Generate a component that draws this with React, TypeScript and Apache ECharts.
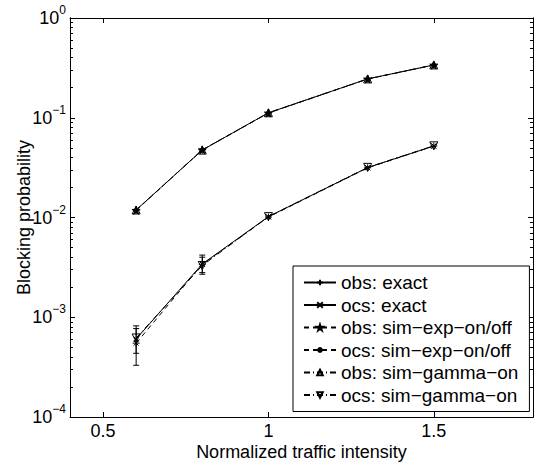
import React, { useEffect, useRef } from "react";
import * as echarts from "echarts";

// ---- data ----
const xValues = [0.6, 0.8, 1.0, 1.3, 1.5];
const obsExact = [0.0119, 0.0475, 0.112, 0.245, 0.338];
const ocsExact = [0.000605, 0.00342, 0.0102, 0.0316, 0.0521];
const obsSimExp = [0.0118, 0.0477, 0.1115, 0.2445, 0.3375];
const ocsSimExp = [0.00055, 0.0034, 0.0101, 0.0315, 0.052];
const obsSimGamma = [0.0119, 0.0474, 0.1122, 0.2452, 0.3385];
const ocsSimGamma = [0.00062, 0.0033, 0.0102, 0.0318, 0.0523];

// error bars (x, low, high)
const errX = [0.6, 0.6, 0.8, 0.8];
const errLow = [0.00033, 0.000435, 0.0027, 0.0028];
const errHigh = [0.00082, 0.00077, 0.0042, 0.004];

const xTicks = [0.5, 1, 1.5];
const yMajor = [1e-4, 1e-3, 1e-2, 1e-1, 1];
const yMinorFactors = [2, 3, 4, 5, 6, 7, 8, 9];

const seriesNames = [
  "obs: exact",
  "ocs: exact",
  "obs: sim\u2212exp\u2212on/off",
  "ocs: sim\u2212exp\u2212on/off",
  "obs: sim\u2212gamma\u2212on",
  "ocs: sim\u2212gamma\u2212on",
];

const FONT = "'Liberation Sans', Arial, Helvetica, sans-serif";

const PLUS = "path://M5,0L5,10M0,5L10,5";
const CROSS = "path://M0,0L10,10M10,0L0,10";
const STAR =
  "path://M5,0L6.123,3.455L9.755,3.455L6.817,5.59L7.939,9.045L5,6.91L2.061,9.045L3.183,5.59L0.245,3.455L3.877,3.455Z";
const ASTER = "path://M5,0L5,10M0,5L10,5M1.5,1.5L8.5,8.5M8.5,1.5L1.5,8.5";

export default function App() {
  const ref = useRef<HTMLDivElement>(null);

  useEffect(() => {
    if (!ref.current) return;
    const chart = echarts.init(ref.current, undefined, { renderer: "svg" });

    const yMinor: number[] = [];
    for (let i = 0; i < yMajor.length - 1; i++) {
      yMinorFactors.forEach((f) => yMinor.push(yMajor[i] * f));
    }

    const pairs = (ys: number[]) => xValues.map((x, i) => [x, ys[i]]);
    const errData = errX.map((x, i) => [x, errLow[i], errHigh[i]]);

    const fmtPow = (v: number) => {
      const e = Math.round(Math.log10(v));
      const s = e < 0 ? "\u2212" + -e : String(e);
      return `{b|10}{s|${s}}`;
    };

    const yBase = {
      type: "log",
      logBase: 10,
      min: 1e-4,
      max: 1,
      splitLine: { show: false },
      axisLine: { show: true, lineStyle: { color: "#000", width: 1 } },
    };

    const xBase = {
      type: "value",
      min: 0.4,
      max: 1.8,
      splitLine: { show: false },
      axisLine: { show: true, lineStyle: { color: "#000", width: 1 } },
      axisTick: {
        show: true,
        inside: true,
        length: 5,
        customValues: xTicks,
        lineStyle: { color: "#000" },
      },
    };

    const lineSeries = (
      name: string,
      ys: number[],
      type: any,
      symbol: string,
      size: number,
      fill: string,
      z: number,
      rotate = 0
    ) => ({
      name,
      type: "line",
      data: pairs(ys),
      xAxisIndex: 0,
      yAxisIndex: 0,
      symbol,
      symbolSize: size,
      symbolRotate: rotate,
      showSymbol: true,
      lineStyle: { color: "#000", width: 1, type },
      itemStyle: { color: fill, borderColor: "#000", borderWidth: 1 },
      emphasis: { disabled: true },
      z,
    });

    chart.setOption({
      animation: false,
      backgroundColor: "#fff",
      textStyle: { fontFamily: FONT },
      grid: { left: 70, top: 18, right: 6, bottom: 54, containLabel: false },
      legend: {
        orient: "vertical",
        left: 293,
        top: 266,
        padding: [7, 11, 7, 10],
        itemGap: 3.5,
        itemWidth: 32,
        itemHeight: 7,
        backgroundColor: "#fff",
        borderColor: "#000",
        borderWidth: 1,
        borderRadius: 0,
        selectedMode: false,
        textStyle: { fontSize: 19, color: "#000", fontFamily: FONT },
        data: seriesNames,
      },
      xAxis: [
        {
          ...xBase,
          position: "bottom",
          name: "Normalized traffic intensity",
          nameLocation: "middle",
          nameGap: 26,
          nameMoveOverlap: false,
          nameTextStyle: { fontSize: 18, color: "#000", fontFamily: FONT },
          axisLabel: {
            show: true,
            customValues: xTicks,
            margin: 5,
            fontSize: 18,
            color: "#000",
            fontFamily: FONT,
            formatter: (v: number) => String(v),
          },
        },
        {
          ...xBase,
          position: "top",
          axisLabel: { show: false },
        },
      ],
      yAxis: [
        {
          ...yBase,
          position: "left",
          name: "Blocking probability",
          nameLocation: "middle",
          nameGap: 37,
          nameMoveOverlap: false,
          nameTextStyle: { fontSize: 18, color: "#000", fontFamily: FONT },
          axisTick: {
            show: true,
            inside: true,
            length: 5,
            customValues: yMajor,
            lineStyle: { color: "#000" },
          },
          axisLabel: {
            show: true,
            customValues: yMajor,
            margin: 4,
            color: "#000",
            formatter: fmtPow,
            rich: {
              b: { fontSize: 18, lineHeight: 28, fontFamily: FONT, color: "#000" },
              s: {
                fontSize: 12,
                lineHeight: 12,
                verticalAlign: "top",
                fontFamily: FONT,
                color: "#000",
              },
            },
          },
        },
        {
          ...yBase,
          position: "left",
          axisTick: {
            show: true,
            inside: true,
            length: 3,
            customValues: yMinor,
            lineStyle: { color: "#000" },
          },
          axisLabel: { show: false },
        },
        {
          ...yBase,
          position: "right",
          axisTick: {
            show: true,
            inside: true,
            length: 5,
            customValues: yMajor,
            lineStyle: { color: "#000" },
          },
          axisLabel: { show: false },
        },
        {
          ...yBase,
          position: "right",
          axisTick: {
            show: true,
            inside: true,
            length: 3,
            customValues: yMinor,
            lineStyle: { color: "#000" },
          },
          axisLabel: { show: false },
        },
      ],
      series: [
        {
          name: "errorbars",
          type: "custom",
          xAxisIndex: 0,
          yAxisIndex: 0,
          data: errData,
          encode: { x: 0, y: [1, 2] },
          z: 2,
          renderItem: (params: any, api: any) => {
            const x = api.value(0);
            const lo = api.coord([x, api.value(1)]);
            const hi = api.coord([x, api.value(2)]);
            const w = 3;
            const st = { stroke: "#000", lineWidth: 1 };
            return {
              type: "group",
              children: [
                { type: "line", shape: { x1: lo[0], y1: lo[1], x2: hi[0], y2: hi[1] }, style: st },
                { type: "line", shape: { x1: lo[0] - w, y1: lo[1], x2: lo[0] + w, y2: lo[1] }, style: st },
                { type: "line", shape: { x1: hi[0] - w, y1: hi[1], x2: hi[0] + w, y2: hi[1] }, style: st },
              ],
            };
          },
        },
        lineSeries(seriesNames[0], obsExact, "solid", PLUS, 7, "#000", 5),
        lineSeries(seriesNames[1], ocsExact, "solid", CROSS, 5, "#000", 5),
        lineSeries(seriesNames[2], obsSimExp, [5, 4], STAR, 8, "#000", 4),
        lineSeries(seriesNames[3], ocsSimExp, [5, 4], ASTER, 7, "#000", 4),
        lineSeries(seriesNames[4], obsSimGamma, [6, 3, 1, 3], "triangle", 8, "rgba(0,0,0,0)", 3),
        lineSeries(seriesNames[5], ocsSimGamma, [6, 3, 1, 3], "triangle", 8, "rgba(0,0,0,0)", 3, 180),
      ],
    });

    return () => chart.dispose();
  }, []);

  return <div ref={ref} style={{ width: 539, height: 471, position: "absolute", left: 0, top: 0 }} />;
}
